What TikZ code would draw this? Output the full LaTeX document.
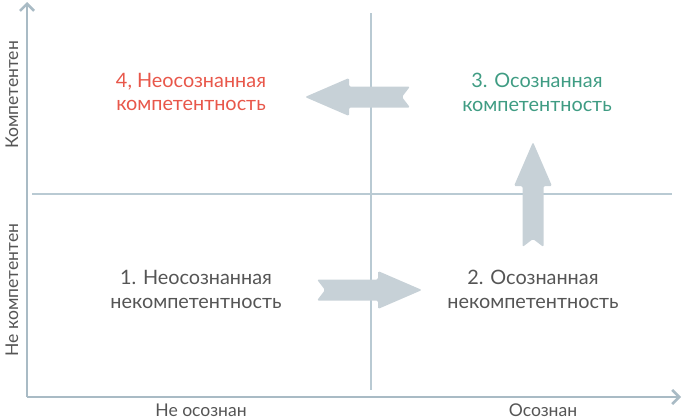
\documentclass[tikz,border=0pt]{standalone}
\usepackage{fontspec}
\setmainfont{Lato}
\usetikzlibrary{arrows.meta}

\definecolor{axisgray}{HTML}{A9BBC5}
\definecolor{linegray}{HTML}{B9CAD3}
\definecolor{arrowfill}{HTML}{C7D1D7}
\definecolor{textgray}{HTML}{555555}
\definecolor{redtext}{HTML}{E8574A}
\definecolor{greentext}{HTML}{3F9C83}

\tikzset{
  axis/.style={draw=axisgray, line width=1.5pt, -{Straight Barb[length=4pt,width=8pt]}},
  divider/.style={draw=linegray, line width=0.6pt},
  axislabel/.style={text=textgray, font=\fontsize{10}{12}\selectfont},
  quadtext/.style={align=center, font=\fontsize{11.3}{13.6}\selectfont},
  blockarrow/.pic={
    \fill[arrowfill, rounded corners=0.8pt]
      (0,-10.5) -- (61,-10.5) -- (61,-19) -- (105,0) -- (61,19)
      -- (61,10.5) -- (0,10.5) -- (8,0) -- cycle;
  }
}

\begin{document}
\begin{tikzpicture}[x=0.02cm, y=-0.02cm]
\useasboundingbox (0,0) rectangle (683,419);

\coordinate (O) at (27, 397);
\coordinate (X) at (681, 397);
\coordinate (Y) at (27, 2);
\coordinate (V1) at (371, 13);
\coordinate (V2) at (371, 390);
\coordinate (H1) at (32, 194);
\coordinate (H2) at (672, 194);

\draw[divider] (V1) -- (V2);
\draw[divider] (H1) -- (H2);

\draw[axis] (O) -- (X);
\draw[axis] (O) -- (Y);

\pic at (410, 97) [rotate=180] {blockarrow};
\pic at (317, 290) {blockarrow};
\pic at (533, 247) [rotate=90] {blockarrow};

\node[quadtext, text=redtext] (q4) at (191, 92) {4, Неосознанная\\компетентность};
\node[quadtext, text=greentext] (q3) at (537, 92) {3. Осознанная\\компетентность};
\node[quadtext, text=textgray] (q1) at (196, 289) {1. Неосознанная\\некомпетентность};
\node[quadtext, text=textgray] (q2) at (533, 289) {2. Осознанная\\некомпетентность};

\node[axislabel, rotate=90] (ytop) at (12, 95) {Компетентен};
\node[axislabel, rotate=90] (ybot) at (12, 290) {Не компетентен};
\node[axislabel] (xleft) at (201, 410) {Не осознан};
\node[axislabel] (xright) at (543, 410) {Осознан};
\end{tikzpicture}
\end{document}
